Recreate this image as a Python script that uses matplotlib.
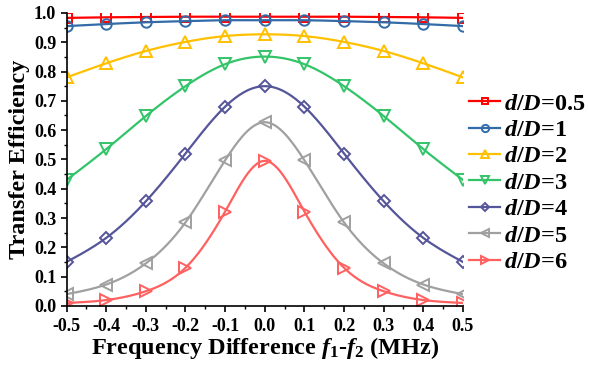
import numpy as np
import matplotlib
matplotlib.use("Agg")
import matplotlib.pyplot as plt
from matplotlib.ticker import MultipleLocator, FormatStrFormatter

plt.rcParams['font.family'] = ['Liberation Serif', 'DejaVu Serif']
plt.rcParams['font.weight'] = 'bold'
plt.rcParams['mathtext.fontset'] = 'custom'
plt.rcParams['mathtext.it'] = 'Liberation Serif:italic:bold'
plt.rcParams['mathtext.rm'] = 'Liberation Serif:bold'
plt.rcParams['mathtext.bf'] = 'Liberation Serif:bold'
plt.rcParams['axes.unicode_minus'] = False

freq = [-0.5, -0.4, -0.3, -0.2, -0.1, 0.0, 0.1, 0.2, 0.3, 0.4, 0.5]
eff_05 = [0.983, 0.985, 0.986, 0.987, 0.987, 0.987, 0.987, 0.987, 0.986, 0.985, 0.983]
eff_1 = [0.955, 0.962, 0.968, 0.972, 0.975, 0.975, 0.975, 0.972, 0.968, 0.962, 0.955]
eff_2 = [0.780, 0.828, 0.870, 0.901, 0.921, 0.927, 0.921, 0.901, 0.870, 0.828, 0.780]
eff_3 = [0.430, 0.535, 0.648, 0.750, 0.825, 0.851, 0.825, 0.750, 0.648, 0.535, 0.430]
eff_4 = [0.150, 0.232, 0.357, 0.520, 0.680, 0.750, 0.680, 0.520, 0.357, 0.232, 0.150]
eff_5 = [0.040, 0.073, 0.145, 0.285, 0.497, 0.627, 0.497, 0.285, 0.145, 0.073, 0.040]
eff_6 = [0.010, 0.020, 0.050, 0.130, 0.322, 0.495, 0.322, 0.130, 0.050, 0.020, 0.010]
labels = ['0.5', '1', '2', '3', '4', '5', '6']

series = [eff_05, eff_1, eff_2, eff_3, eff_4, eff_5, eff_6]
colors = ['#FF0000', '#336BA8', '#FFC000', '#33C46A', '#555599', '#A0A0A0', '#FF6060']
markers = ['s', 'o', '^', 'v', 'D', '<', '>']
msizes = [7, 7.5, 8.5, 8.5, 6.5, 8.5, 8.5]


def natural_spline(x, y, n=300):
    x = np.asarray(x, float)
    y = np.asarray(y, float)
    m = len(x)
    h = np.diff(x)
    A = np.zeros((m, m))
    b = np.zeros(m)
    A[0, 0] = 1
    A[-1, -1] = 1
    for i in range(1, m - 1):
        A[i, i - 1] = h[i - 1]
        A[i, i] = 2 * (h[i - 1] + h[i])
        A[i, i + 1] = h[i]
        b[i] = 3 * ((y[i + 1] - y[i]) / h[i] - (y[i] - y[i - 1]) / h[i - 1])
    c = np.linalg.solve(A, b)
    xs = np.linspace(x[0], x[-1], n)
    ys = np.empty_like(xs)
    for k, xv in enumerate(xs):
        i = min(np.searchsorted(x, xv, side='right') - 1, m - 2)
        dx = xv - x[i]
        bi = (y[i + 1] - y[i]) / h[i] - h[i] * (2 * c[i] + c[i + 1]) / 3
        di = (c[i + 1] - c[i]) / (3 * h[i])
        ys[k] = y[i] + bi * dx + c[i] * dx ** 2 + di * dx ** 3
    return xs, ys


fig = plt.figure(figsize=(5.89, 3.69), dpi=100)
ax = fig.add_axes([0.113, 0.171, 0.673, 0.794])

handles = []
for ys_, col, mk, ms, lab in zip(series, colors, markers, msizes, labels):
    xs, yy = natural_spline(freq, ys_)
    ax.plot(xs, yy, color=col, lw=1.6)
    ax.plot(freq, ys_, ls='none', marker=mk, ms=ms, mfc='none', mec=col, mew=1.4)
    h, = ax.plot([], [], color=col, lw=1.6, marker=mk, ms=ms * 0.7, mfc='none', mec=col, mew=1.4,
                 label=r'$d/D$=' + lab)
    handles.append(h)

ax.set_xlim(-0.5, 0.5)
ax.set_ylim(0.0, 1.0)
ax.xaxis.set_major_locator(MultipleLocator(0.1))
ax.xaxis.set_minor_locator(MultipleLocator(0.05))
ax.yaxis.set_major_locator(MultipleLocator(0.1))
ax.yaxis.set_minor_locator(MultipleLocator(0.05))
ax.xaxis.set_major_formatter(FormatStrFormatter('%.1f'))
ax.yaxis.set_major_formatter(FormatStrFormatter('%.1f'))
ax.spines['top'].set_visible(False)
ax.spines['right'].set_visible(False)
for s in ['left', 'bottom']:
    ax.spines[s].set_linewidth(1.2)
ax.tick_params(which='major', direction='out', length=4, width=1.2, labelsize=13)
ax.tick_params(axis='x', which='major', pad=5)
ax.tick_params(which='minor', direction='out', length=2.5, width=1.0)
for t in ax.get_xticklabels() + ax.get_yticklabels():
    t.set_fontweight('bold')

ax.set_xlabel(r'Frequency Difference $f_1$-$f_2$ (MHz)', fontsize=17.5, fontweight='bold', labelpad=0)
ax.set_ylabel('Transfer Efficiency', fontsize=17.5, fontweight='bold', labelpad=3)

leg = ax.legend(handles=handles, loc='center left', bbox_to_anchor=(1.015, 0.42), frameon=False,
                fontsize=17.5, handlelength=1.3, handletextpad=0.15, labelspacing=0.18,
                borderaxespad=0.0, borderpad=0.0)

fig.savefig('out.png', dpi=100)
